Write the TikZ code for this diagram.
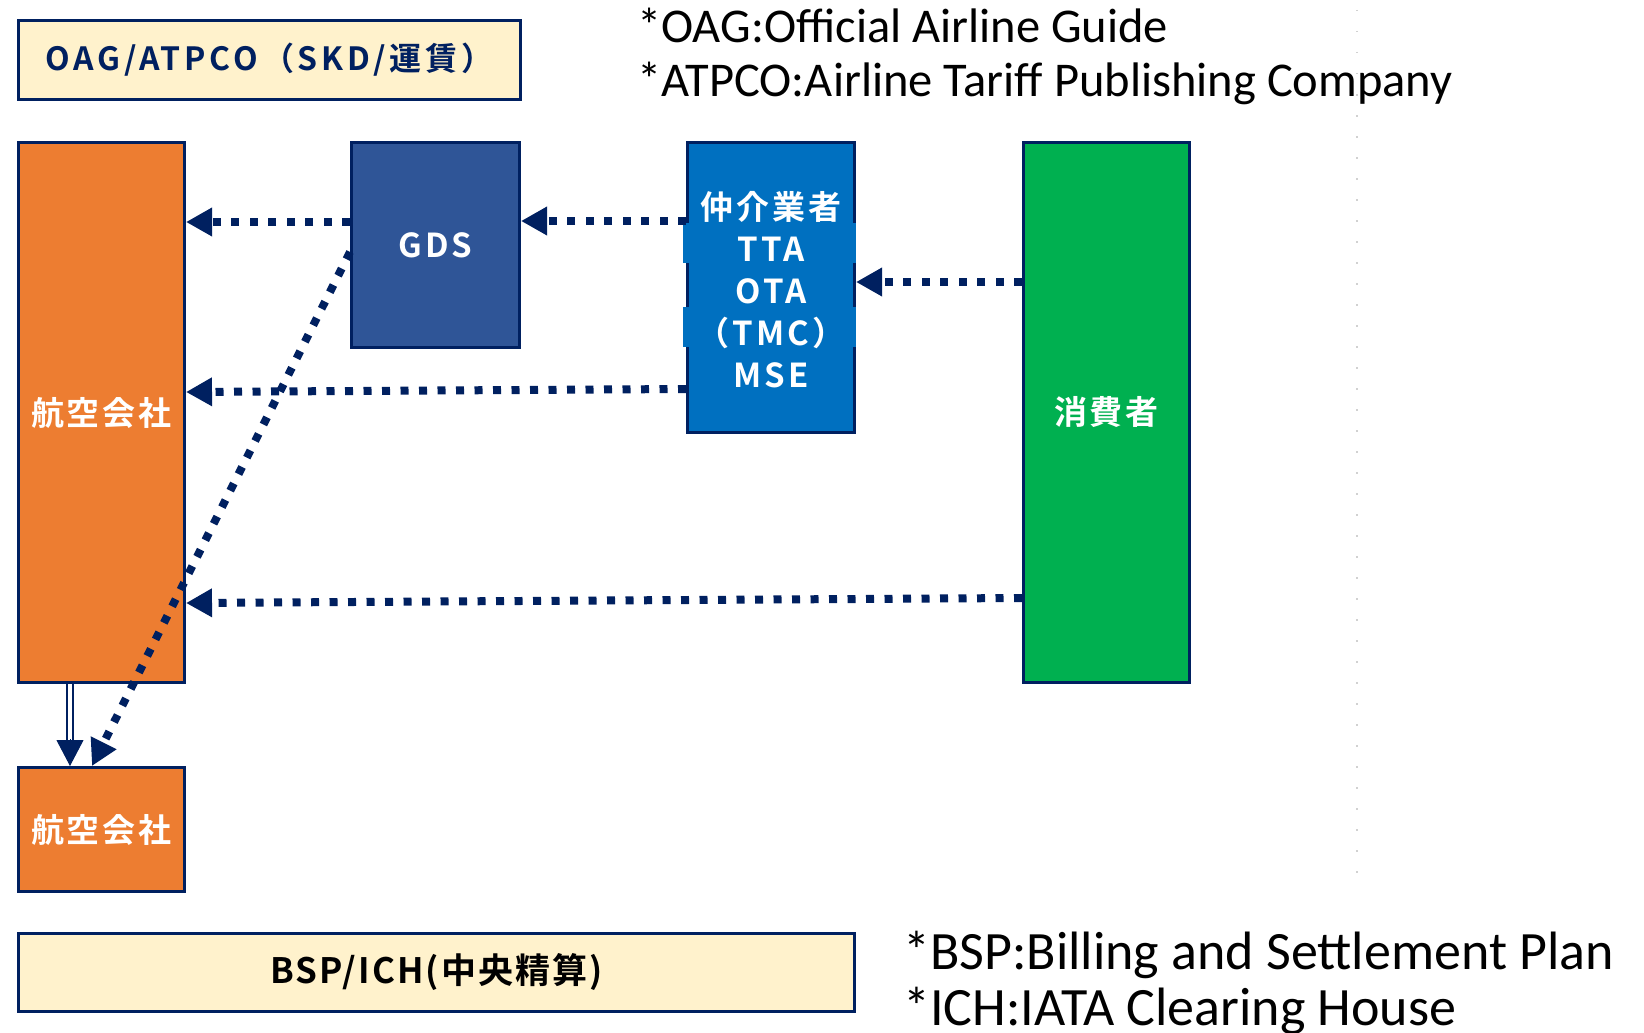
\documentclass[tikz,border=0pt]{standalone}
\usepackage{fontspec}
\usetikzlibrary{arrows.meta,calc}
\setmainfont{Carlito}
\newfontfamily\jpwide{Noto Sans CJK JP}[UprightFont=* Bold, LetterSpace=9]
\newfontfamily\jpmid{Noto Sans CJK JP}[UprightFont=* Bold, LetterSpace=12]
\newfontfamily\jpnarrow{Noto Sans CJK JP}[UprightFont=* Bold, LetterSpace=6]
\definecolor{navy}{HTML}{002060}
\definecolor{cream}{HTML}{FFF2CC}
\definecolor{orangebox}{HTML}{ED7D31}
\definecolor{gdsblue}{HTML}{2F5597}
\definecolor{agentblue}{HTML}{0070C0}
\definecolor{consgreen}{HTML}{00B050}
\begin{document}
\begin{tikzpicture}[x=1pt,y=-1pt,
  box/.style={draw=navy, line width=3pt, inner sep=0pt, anchor=north west, text=white},
  dotarrow/.style={draw=navy, line width=8pt, dash pattern=on 8pt off 10.5pt,
    -{Triangle[length=26pt,width=27pt]}},
  note/.style={anchor=base west, inner sep=0pt, text=black}]
\useasboundingbox (0,0) rectangle (1644,1033);
\fill[white] (0,0) rectangle (1644,1033);
% faint guide
\draw[black!18, line width=1.5pt, dash pattern=on 1.5pt off 19.5pt] (1357,10) -- (1357,892);
% boxes
\node[box, fill=cream, text=navy, minimum width=502pt, minimum height=79pt,
  font=\jpmid\fontsize{32}{36}\selectfont] (oag) at (17,19) {OAG/ATPCO（SKD/運賃）};
\node[box, fill=orangebox, minimum width=166pt, minimum height=540pt,
  font=\jpwide\fontsize{33}{36}\selectfont] (air1) at (17,141) {航空会社};
\node[box, fill=gdsblue, minimum width=168pt, minimum height=205pt,
  font=\jpwide\fontsize{33}{36}\selectfont] (gds) at (350,141) {GDS};
\node[box, fill=agentblue, minimum width=167pt, minimum height=290pt] (agent) at (686,141) {};
\fill[agentblue] (683,223) rectangle (856,263);
\fill[agentblue] (683,307) rectangle (856,347);
\node[align=center, text=white, inner sep=0pt, font=\jpwide\fontsize{33}{42}\selectfont]
  (agenttext) at ($(agent.center)+(0,2)$) {仲介業者\\TTA\\OTA\\（TMC）\\MSE};
\node[box, fill=consgreen, minimum width=166pt, minimum height=540pt,
  font=\jpwide\fontsize{33}{36}\selectfont] (cons) at (1022,141) {消費者};
\node[box, fill=orangebox, minimum width=166pt, minimum height=124pt,
  font=\jpwide\fontsize{33}{36}\selectfont] (air2) at (17,766) {航空会社};
\node[box, fill=cream, text=black, minimum width=836pt, minimum height=78pt,
  font=\jpnarrow\fontsize{35}{36}\selectfont] (bsp) at (17,932) {BSP/ICH(中央精算)};
% notes
\node[note, font=\fontsize{48.5}{53}\selectfont] (n1) at (637,43) {*OAG:Official Airline Guide};
\node[note, font=\fontsize{48.5}{53}\selectfont] (n2) at (637,96) {*ATPCO:Airline Tariff Publishing Company};
\node[note, font=\fontsize{54}{57}\selectfont] (n3) at (903,969) {*BSP:Billing and Settlement Plan};
\node[note, font=\fontsize{54}{57}\selectfont] (n4) at (903,1025) {*ICH:IATA Clearing House};
% arrows
\draw[dotarrow] (gds.west |- 0,222) -- (air1.east |- 0,222);
\draw[dotarrow] (agent.west |- 0,221) -- (gds.east |- 0,221);
\draw[dotarrow] (cons.west |- 0,282) -- (agent.east |- 0,282);
\draw[dotarrow] (agent.west |- 0,389) -- (air1.east |- 0,392);
\draw[dotarrow] (cons.west |- 0,598) -- (air1.east |- 0,603);
\draw[dotarrow] (gds.west |- 0,252) -- (air2.north -| 92,0);
% double arrow
\coordinate (dbs) at (air1.south -| 70,0);
\coordinate (dbe) at (air2.north -| 70,0);
\draw[navy, line width=2.2pt, double=white, double distance=3.6pt, shorten >=24pt] (dbs) -- (dbe);
\draw[navy, line width=1pt, -{Triangle[length=26pt,width=27pt]}] ($(dbe)+(0,-27)$) -- (dbe);
\end{tikzpicture}
\end{document}
